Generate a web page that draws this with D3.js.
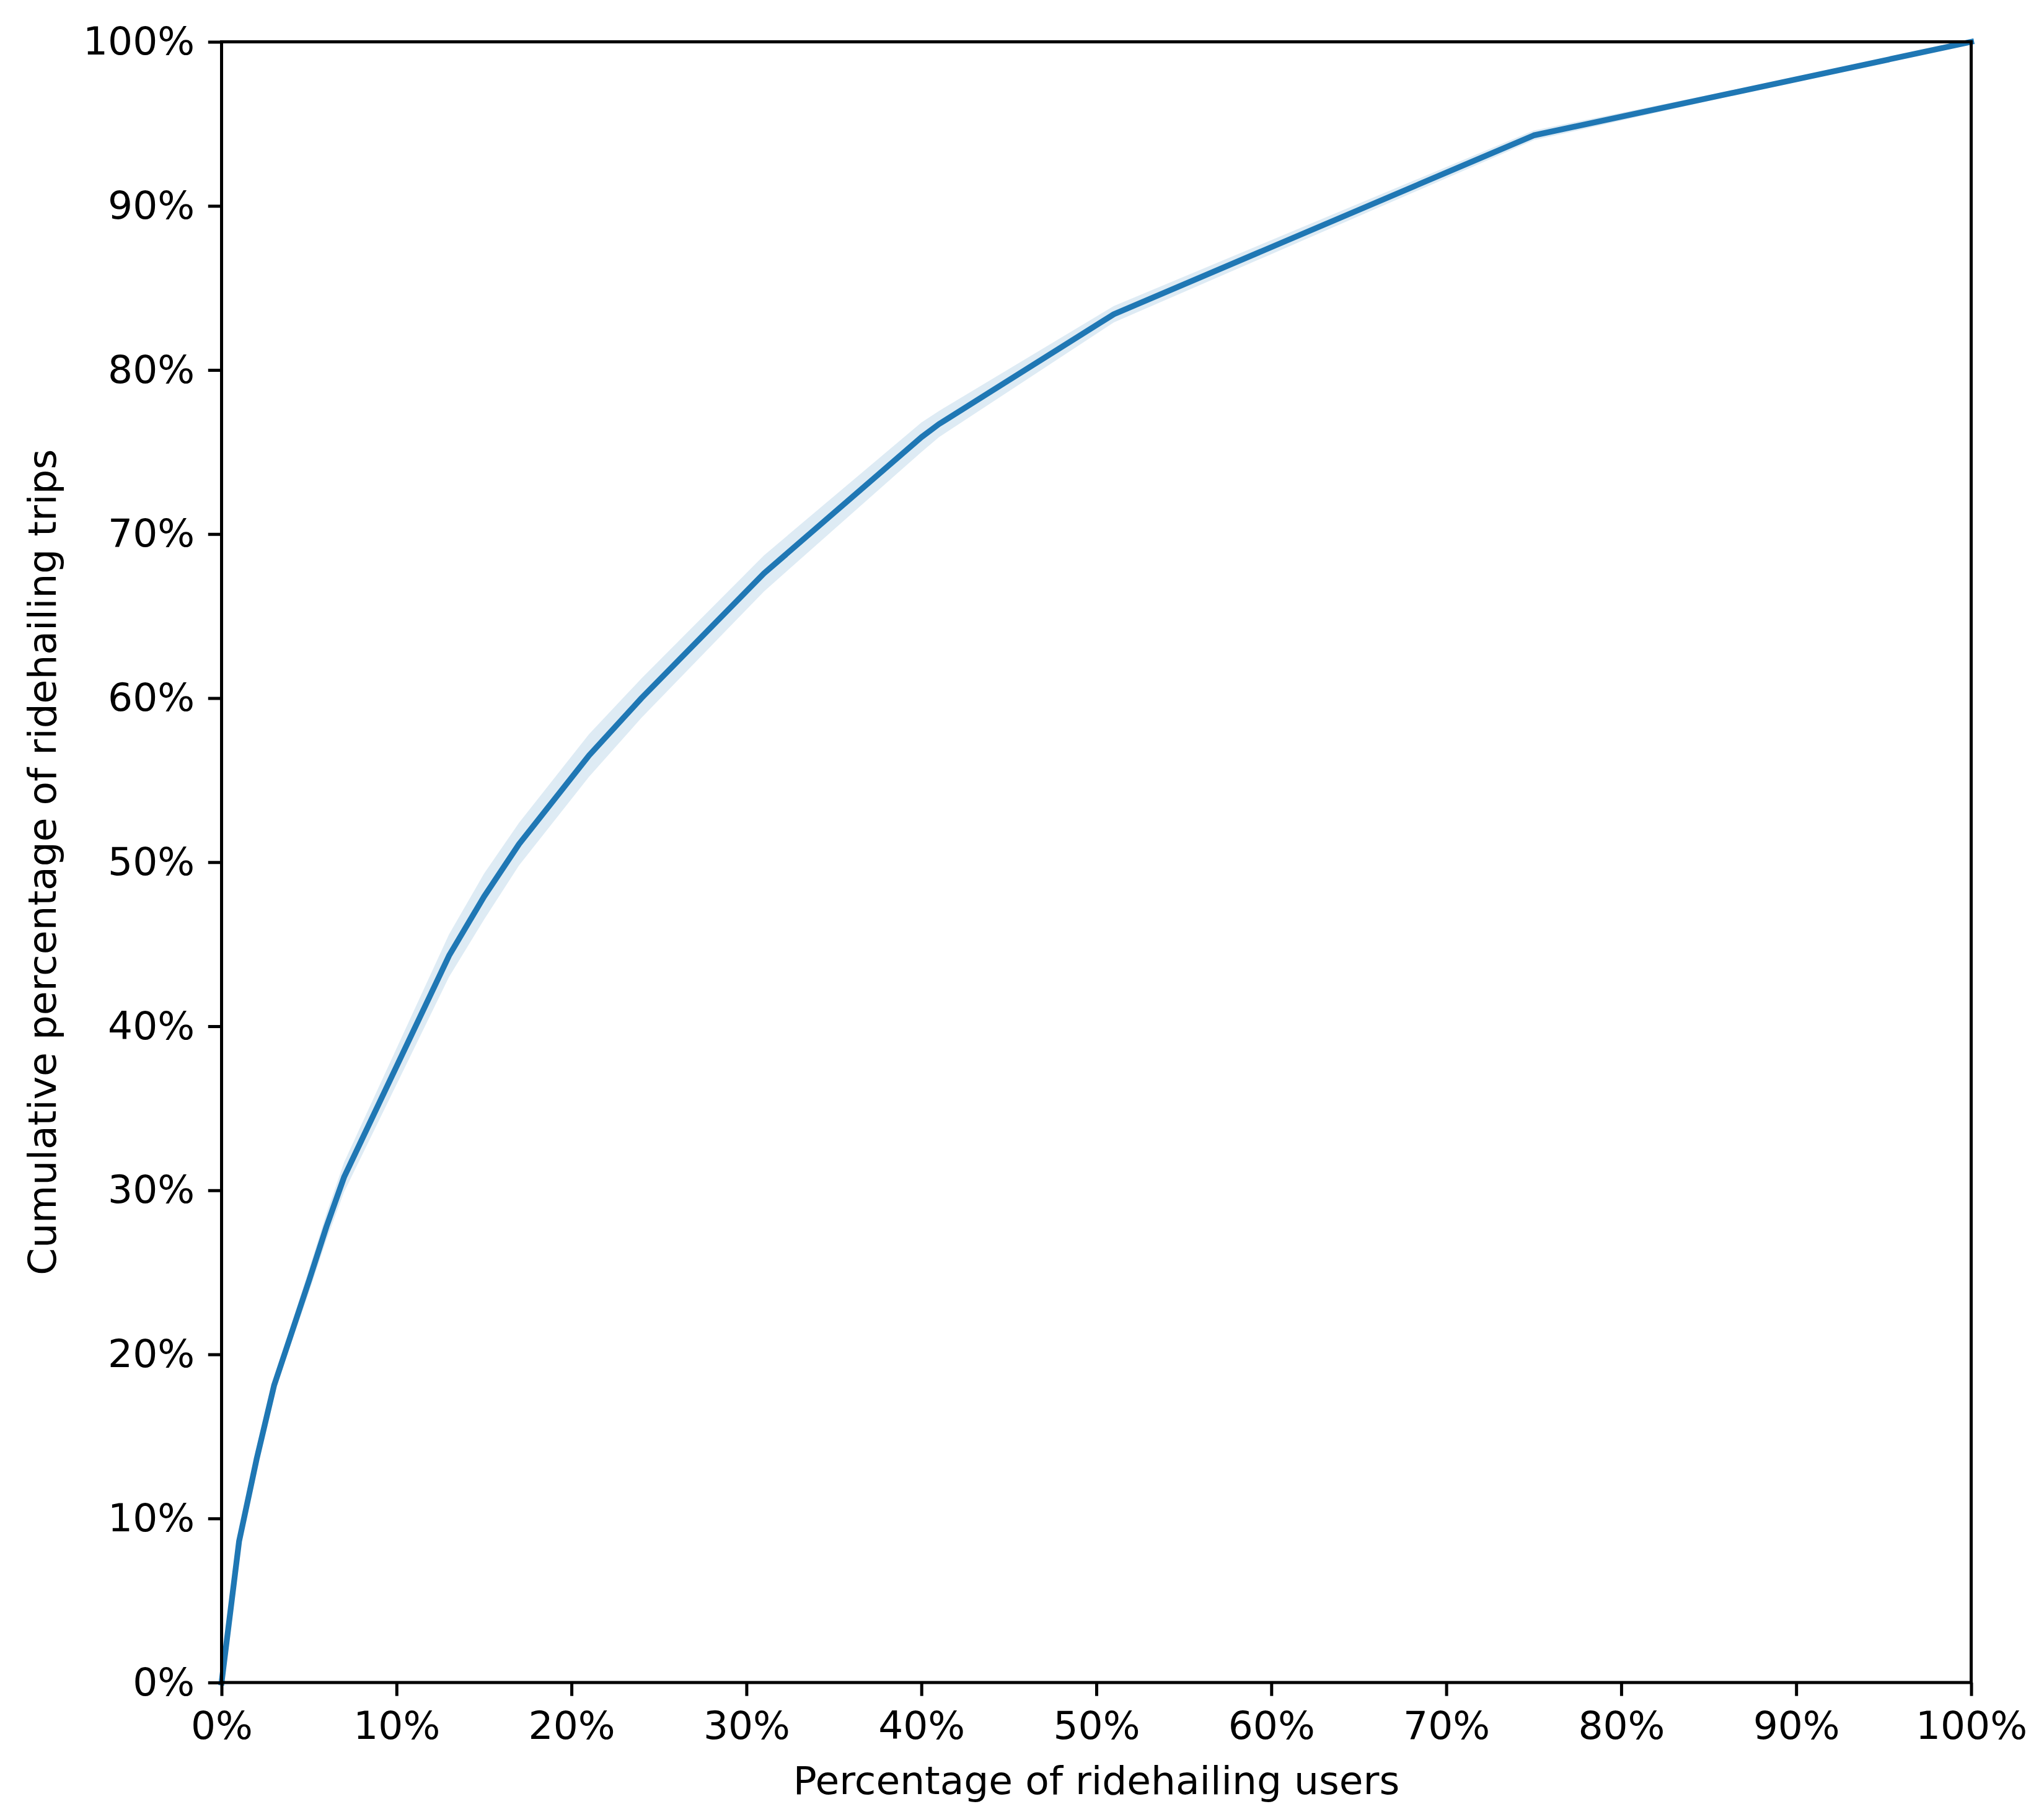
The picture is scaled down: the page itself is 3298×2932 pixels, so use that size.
<!DOCTYPE html>
<html>
<head>
<meta charset="utf-8">
<style>
  body { margin: 0; background: #fff; }
  svg { display: block; font-family: "DejaVu Sans", sans-serif; }
</style>
</head>
<body>
<svg></svg>
<script src="https://cdn.jsdelivr.net/npm/d3@7/dist/d3.min.js"></script>
<script>
    // share of ridehailing users (x, %) vs cumulative share of trips (y, %)
    let userPct = [0, 1, 2, 3, 5, 6, 7, 13, 15, 17, 21, 24, 31, 40, 41, 51, 75, 100];
    let tripPct = [0, 8.6, 13.6, 18.1, 24.5, 27.8, 30.8, 44.3, 47.9, 51.1, 56.5, 60.0, 67.6, 75.9, 76.7, 83.4, 94.3, 100];
    // confidence band around the line
    let ciLow = [0, 8.4, 13.3, 17.7, 23.8, 27.0, 29.9, 43.0, 46.5, 49.8, 55.2, 58.8, 66.5, 75.0, 75.9, 82.9, 94.0, 100];
    let ciHigh = [0, 8.8, 13.9, 18.5, 25.2, 28.6, 31.7, 45.6, 49.3, 52.4, 57.8, 61.2, 68.7, 76.8, 77.5, 83.9, 94.6, 100];

    let xTicks = [0, 10, 20, 30, 40, 50, 60, 70, 80, 90, 100];
    let yTicks = [0, 10, 20, 30, 40, 50, 60, 70, 80, 90, 100];

    let width = 3298,
        height = 2932;
    let plotL = 357.5, plotR = 3180.5, plotT = 67.5, plotB = 2715;
    let fontSize = 63, tickLen = 21.7;

    let svg = d3.select("svg").attr("width", width).attr("height", height);

    let x = d3.scaleLinear().domain([0, 100]).range([plotL, plotR]);
    let y = d3.scaleLinear().domain([0, 100]).range([plotB, plotT]);

    let rows = userPct.map((u, i) => ({ u: u, t: tripPct[i], lo: ciLow[i], hi: ciHigh[i] }));

    // band
    svg.append("path")
        .datum(rows)
        .attr("fill", "#1f77b4")
        .attr("fill-opacity", 0.15)
        .attr("stroke", "none")
        .attr("d", d3.area().x(d => x(d.u)).y0(d => y(d.lo)).y1(d => y(d.hi)));

    // line
    svg.append("path")
        .datum(rows)
        .attr("fill", "none")
        .attr("stroke", "#1f77b4")
        .attr("stroke-width", 9.3)
        .attr("stroke-linejoin", "round")
        .attr("stroke-linecap", "square")
        .attr("d", d3.line().x(d => x(d.u)).y(d => y(d.t)));

    let fmt = d => d + "%";

    let xAxis = svg.append("g")
        .attr("transform", "translate(0," + plotB + ")")
        .call(d3.axisBottom(x).tickValues(xTicks).tickFormat(fmt).tickSize(tickLen).tickPadding(tickLen));
    xAxis.selectAll("text").attr("dy", "0.76em");

    let yAxis = svg.append("g")
        .attr("transform", "translate(" + plotL + ",0)")
        .call(d3.axisLeft(y).tickValues(yTicks).tickFormat(fmt).tickSize(tickLen).tickPadding(tickLen));

    [xAxis, yAxis].forEach(g => {
        g.select(".domain").remove();
        g.selectAll("line").attr("stroke", "#000").attr("stroke-width", 5);
        g.selectAll("text")
            .attr("fill", "#000")
            .style("font-size", fontSize + "px")
            .style("font-family", "DejaVu Sans");
    });

    // frame
    svg.append("rect")
        .attr("x", plotL)
        .attr("y", plotT)
        .attr("width", plotR - plotL)
        .attr("height", plotB - plotT)
        .attr("fill", "none")
        .attr("stroke", "#000")
        .attr("stroke-width", 5);

    svg.append("text")
        .attr("x", (plotL + plotR) / 2)
        .attr("y", 2895)
        .attr("text-anchor", "middle")
        .style("font-size", fontSize + "px")
        .text("Percentage of ridehailing users");

    svg.append("text")
        .attr("transform", "translate(90," + (plotT + plotB) / 2 + ") rotate(-90)")
        .attr("text-anchor", "middle")
        .style("font-size", fontSize + "px")
        .text("Cumulative percentage of ridehailing trips");
</script>
</body>
</html>
